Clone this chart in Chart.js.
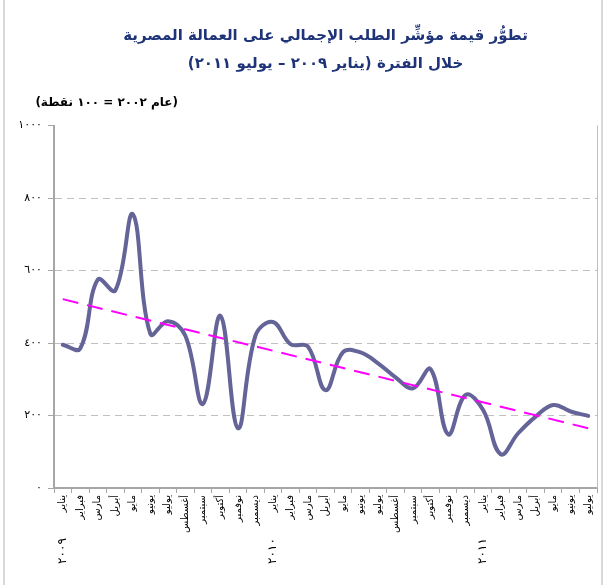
<!DOCTYPE html>
<html>
<head>
<meta charset="utf-8">
<script src="https://cdn.jsdelivr.net/npm/chart.js@4"></script>
<style>
  body { margin: 0; background: #fff; }
</style>
</head>
<body>
<canvas id="demandChart" width="605" height="585"></canvas>
<script>
// months Jan 2009 .. Jul 2011
var categories = [
    'يناير', 'فبراير', 'مارس', 'أبريل', 'مايو', 'يونيو', 'يوليو', 'أغسطس', 'سبتمبر', 'أكتوبر', 'نوفمبر', 'ديسمبر',
    'يناير', 'فبراير', 'مارس', 'أبريل', 'مايو', 'يونيو', 'يوليو', 'أغسطس', 'سبتمبر', 'أكتوبر', 'نوفمبر', 'ديسمبر',
    'يناير', 'فبراير', 'مارس', 'أبريل', 'مايو', 'يونيو', 'يوليو'
];
var indexValues = [
    395, 385, 575, 545, 755, 425, 460, 420, 232, 475, 165, 420,
    458, 397, 390, 270, 375, 374, 344, 305, 275, 328, 148, 257,
    215, 93, 151, 197, 229, 211, 199
];
// trend line: only the two ends are known, the rest is spanned
var trendValues = [521, null, null, null, null, null, null, null, null, null, null, null,
    null, null, null, null, null, null, null, null, null, null, null, null,
    null, null, null, null, null, null, 165];
var yearLabels = ['٢٠٠٩', '٢٠١٠', '٢٠١١'];
var yearStartIndex = [0, 12, 24];
var yTickValues = [0, 200, 400, 600, 800, 1000];
var yTickLabels = ['٠', '٢٠٠', '٤٠٠', '٦٠٠', '٨٠٠', '١٠٠٠'];
var titleLines = ['تطوُّر قيمة مؤشِّر الطلب الإجمالي على العمالة المصرية', 'خلال الفترة (يناير ٢٠٠٩ – يوليو ٢٠١١)\u200F'];
var unitLabel = '(عام ٢٠٠٢ = ١٠٠ نقطة)';

Chart.defaults.font.family = "'DejaVu Sans', sans-serif";
Chart.defaults.color = '#000';

var extrasPlugin = {
    id: 'extras',
    beforeDraw: function (chart) {
        var ctx = chart.ctx;
        ctx.save();
        ctx.strokeStyle = '#D9D9D9';
        ctx.lineWidth = 2;
        ctx.beginPath();
        ctx.moveTo(4, 0); ctx.lineTo(4, 585);
        ctx.moveTo(602, 0); ctx.lineTo(602, 585);
        ctx.stroke();
        ctx.restore();
    },
    afterDraw: function (chart) {
        var ctx = chart.ctx;
        var area = chart.chartArea;
        var xScale = chart.scales.x;
        ctx.save();
        // right edge of plot area
        ctx.strokeStyle = '#BFBFBF';
        ctx.lineWidth = 1;
        ctx.beginPath();
        ctx.moveTo(area.right + 0.5, area.top);
        ctx.lineTo(area.right + 0.5, area.bottom);
        ctx.stroke();
        // unit note
        ctx.direction = 'rtl';
        ctx.font = 'bold 12px "DejaVu Sans"';
        ctx.fillStyle = '#000';
        ctx.textAlign = 'right';
        ctx.textBaseline = 'middle';
        ctx.fillText(unitLabel, 178, 103);
        // years under January
        ctx.direction = 'ltr';
        ctx.font = '12px "DejaVu Sans"';
        ctx.letterSpacing = '3px';
        ctx.textAlign = 'center';
        for (var k = 0; k < yearLabels.length; k++) {
            ctx.save();
            ctx.translate(xScale.getPixelForValue(yearStartIndex[k]), 551);
            ctx.rotate(-Math.PI / 2);
            ctx.fillText(yearLabels[k], 0, 0);
            ctx.restore();
        }
        ctx.restore();
    }
};

var demandChartElem = document.getElementById('demandChart');
var demandChart = new Chart(demandChartElem, {
    type: 'line',
    data: {
        labels: categories,
        datasets: [
            {
                label: 'trend',
                data: trendValues,
                borderColor: '#FF00FF',
                borderWidth: 2,
                borderDash: [16, 9],
                pointRadius: 0,
                spanGaps: true,
                tension: 0,
                fill: false
            },
            {
                label: 'index',
                data: indexValues,
                borderColor: '#646498',
                borderWidth: 4,
                borderCapStyle: 'round',
                borderJoinStyle: 'round',
                pointRadius: 0,
                tension: 0.4,
                fill: false
            }
        ]
    },
    options: {
        responsive: false,
        animation: false,
        devicePixelRatio: 1,
        layout: {padding: {top: 0, right: 8, bottom: 5, left: 0}},
        plugins: {
            legend: {display: false},
            tooltip: {enabled: false},
            title: {
                display: true,
                fullSize: false,
                text: titleLines,
                color: '#1F3478',
                font: {size: 15, weight: 'bold', lineHeight: 1.85},
                padding: {top: 22, bottom: 48}
            }
        },
        scales: {
            x: {
                offset: true,
                grid: {offset: true, drawOnChartArea: false, color: '#A6A6A6', tickLength: 5},
                border: {color: '#A6A6A6', width: 2},
                ticks: {minRotation: 90, maxRotation: 90, autoSkip: false, padding: 2, font: {size: 10}},
                afterFit: function (scale) { scale.height = 92; }
            },
            y: {
                min: 0,
                max: 1000,
                afterBuildTicks: function (scale) {
                    scale.ticks = yTickValues.map(function (v) { return {value: v}; });
                },
                ticks: {
                    padding: 6,
                    font: {size: 11},
                    callback: function (value) { return yTickLabels[yTickValues.indexOf(value)]; }
                },
                grid: {
                    color: function (c) {
                        return (c.tick && (c.tick.value === 0 || c.tick.value === 1000)) ? 'rgba(0,0,0,0)' : '#C0C0C0';
                    },
                    tickColor: '#A6A6A6',
                    tickLength: 6,
                    tickBorderDash: [],
                    lineWidth: 1
                },
                border: {color: '#A6A6A6', width: 2, dash: [7, 5]},
                afterFit: function (scale) { scale.width = 54; }
            }
        }
    },
    plugins: [extrasPlugin]
});
</script>
</body>
</html>
